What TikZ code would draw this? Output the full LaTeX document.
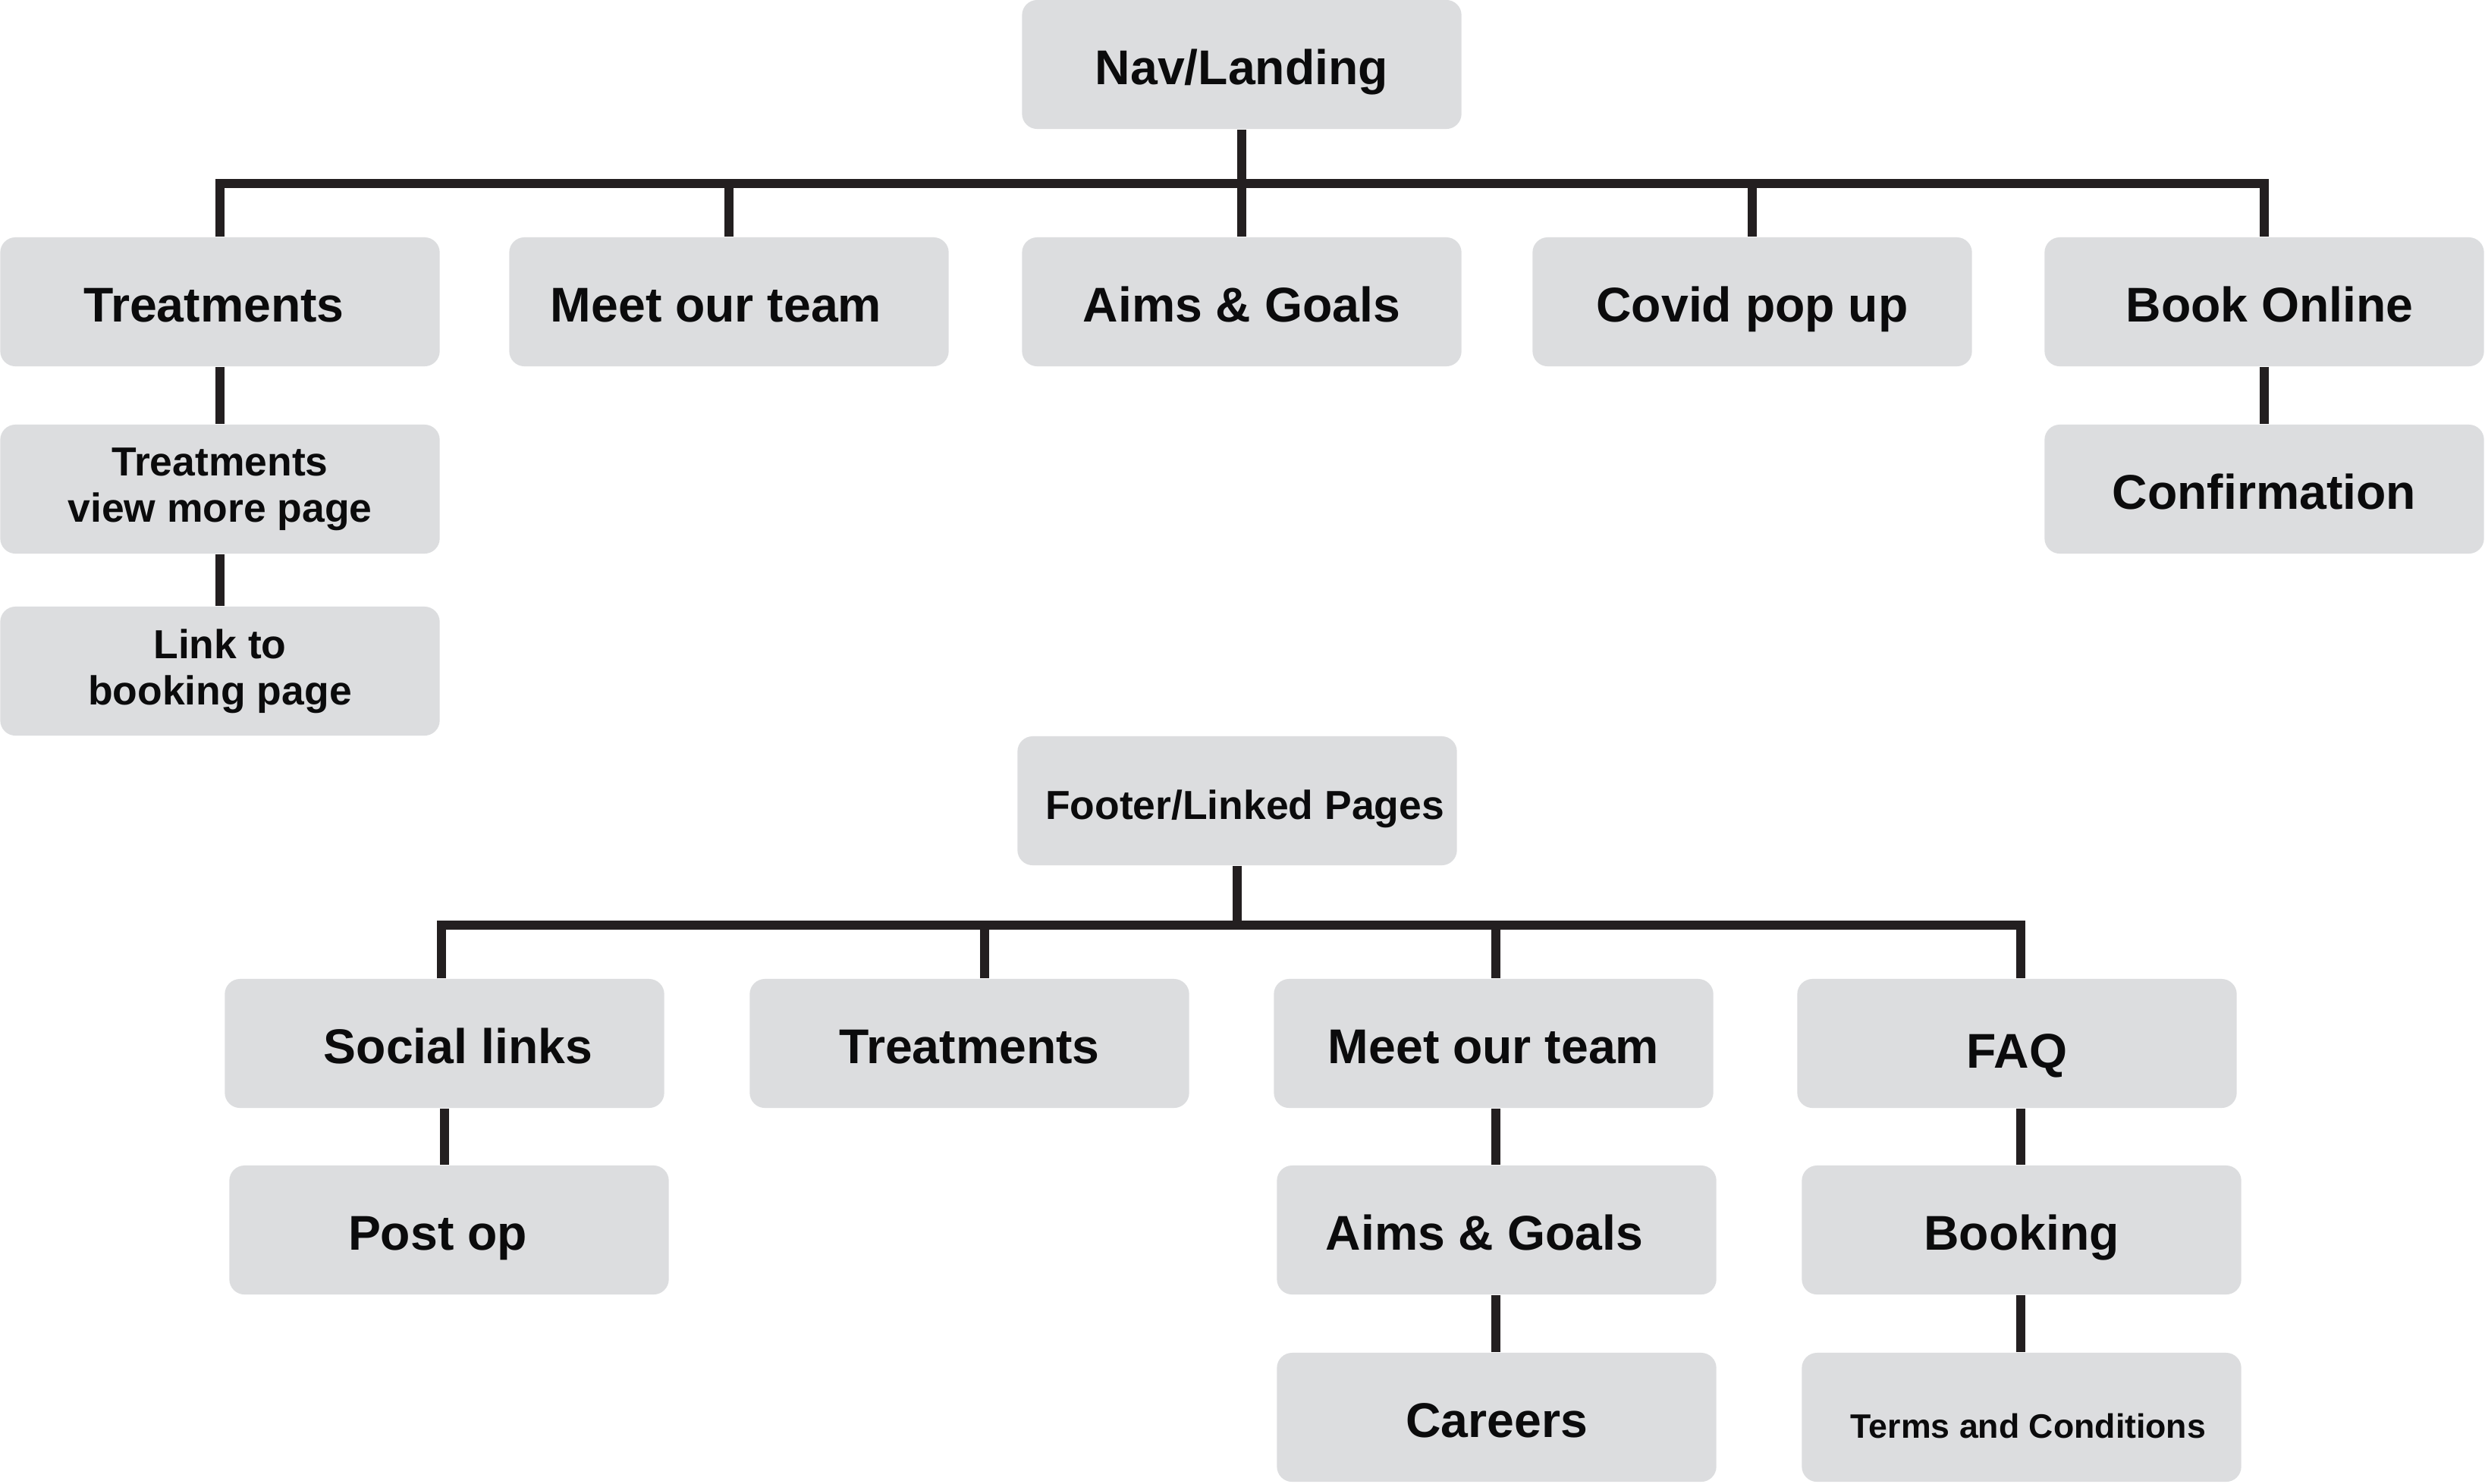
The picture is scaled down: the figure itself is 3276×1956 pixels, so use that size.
\documentclass[tikz,border=0pt]{standalone}
\usepackage{fontspec}
\setmainfont{Liberation Sans}
\definecolor{boxfill}{HTML}{DCDDDF}
\definecolor{linec}{HTML}{231F20}
\definecolor{txtc}{HTML}{0B0B0C}
\begin{document}
\begin{tikzpicture}[x=0.01cm,y=-0.01cm,
  pgbase/.style={fill=boxfill, rounded corners=0.2cm, minimum width=5.79cm, minimum height=1.70cm,
    inner sep=0pt, text=txtc, align=center},
  pg/.style={pgbase, font=\fontsize{18.3}{22}\selectfont\bfseries, text height=0.52cm, text depth=0pt},
  pgs/.style={pgbase, font=\fontsize{15.2}{17.3}\selectfont\bfseries},
  pgf/.style={pgbase, font=\fontsize{15.2}{17.3}\selectfont\bfseries, text height=0.48cm, text depth=0pt},
  pgt/.style={pgbase, font=\fontsize{12.7}{15}\selectfont\bfseries, text height=0.55cm, text depth=0pt},
  conn/.style={draw=linec, line width=0.12cm}]
\fill[white] (0,0) rectangle (3276,1956);
\useasboundingbox (0,0) rectangle (3276,1956);

% top tree
\node[pg] (nav) at (1637,85) {Nav/Landing};
\node[pg] (t1) at (290,398) {Treatments\hspace*{0.16cm}};
\node[pg] (t2) at (961,398) {Meet our team\hspace*{0.34cm}};
\node[pg] (t3) at (1637,398) {Aims \& Goals};
\node[pg] (t4) at (2310,398) {Covid pop up};
\node[pg] (t5) at (2985,398) {\hspace*{0.14cm}Book Online};
\node[pgs] (t1a) at (290,645) {Treatments\\view more page};
\node[pgs] (t1b) at (290,885) {Link to\\booking page};
\node[pg] (t5a) at (2985,645) {Confirmation};

\coordinate (bus) at (0,242);
\draw[conn] (nav.south) -- (nav.south |- bus);
\draw[conn] (t1.north) -- (t1.north |- bus) -- (t5.north |- bus) -- (t5.north);
\draw[conn] (t2.north |- bus) -- (t2.north);
\draw[conn] (t3.north |- bus) -- (t3.north);
\draw[conn] (t4.north |- bus) -- (t4.north);
\draw[conn] (t1.south) -- (t1a.north);
\draw[conn] (t1a.south) -- (t1b.north);
\draw[conn] (t5.south) -- (t5a.north);

% footer tree
\node[pgf] (foot) at (1631,1056) {\hspace*{0.2cm}Footer/Linked Pages};
\node[pg] (b1) at (586,1376) {\hspace*{0.36cm}Social links};
\node[pg] (b2) at (1278,1376) {Treatments};
\node[pg] (b3) at (1969,1376) {Meet our team};
\node[pg, text height=0.64cm] (b4) at (2659,1376) {FAQ};
\node[pg] (c1) at (592,1622) {Post op\hspace*{0.3cm}};
\node[pg] (c3) at (1973,1622) {Aims \& Goals\hspace*{0.32cm}};
\node[pg] (c4) at (2665,1622) {Booking};
\node[pg] (d3) at (1973,1869) {Careers};
\node[pgt] (d4) at (2665,1869) {\hspace*{0.18cm}Terms and Conditions};

\coordinate (j1) at (582,1220);
\coordinate (j2) at (1298,1220);
\coordinate (j3) at (1972,1220);
\coordinate (j4) at (2664,1220);
\draw[conn] (foot.south) -- (foot.south |- j1);
\draw[conn] (b1.north -| j1) -- (j1) -- (j4) -- (b4.north -| j4);
\draw[conn] (j2) -- (b2.north -| j2);
\draw[conn] (j3) -- (b3.north -| j3);
\draw[conn] (b1.south -| 586,0) -- (c1.north -| 586,0);
\draw[conn] (b3.south -| j3) -- (c3.north -| j3);
\draw[conn] (c3.south -| j3) -- (d3.north -| j3);
\draw[conn] (b4.south -| j4) -- (c4.north -| j4);
\draw[conn] (c4.south -| j4) -- (d4.north -| j4);
\end{tikzpicture}
\end{document}
